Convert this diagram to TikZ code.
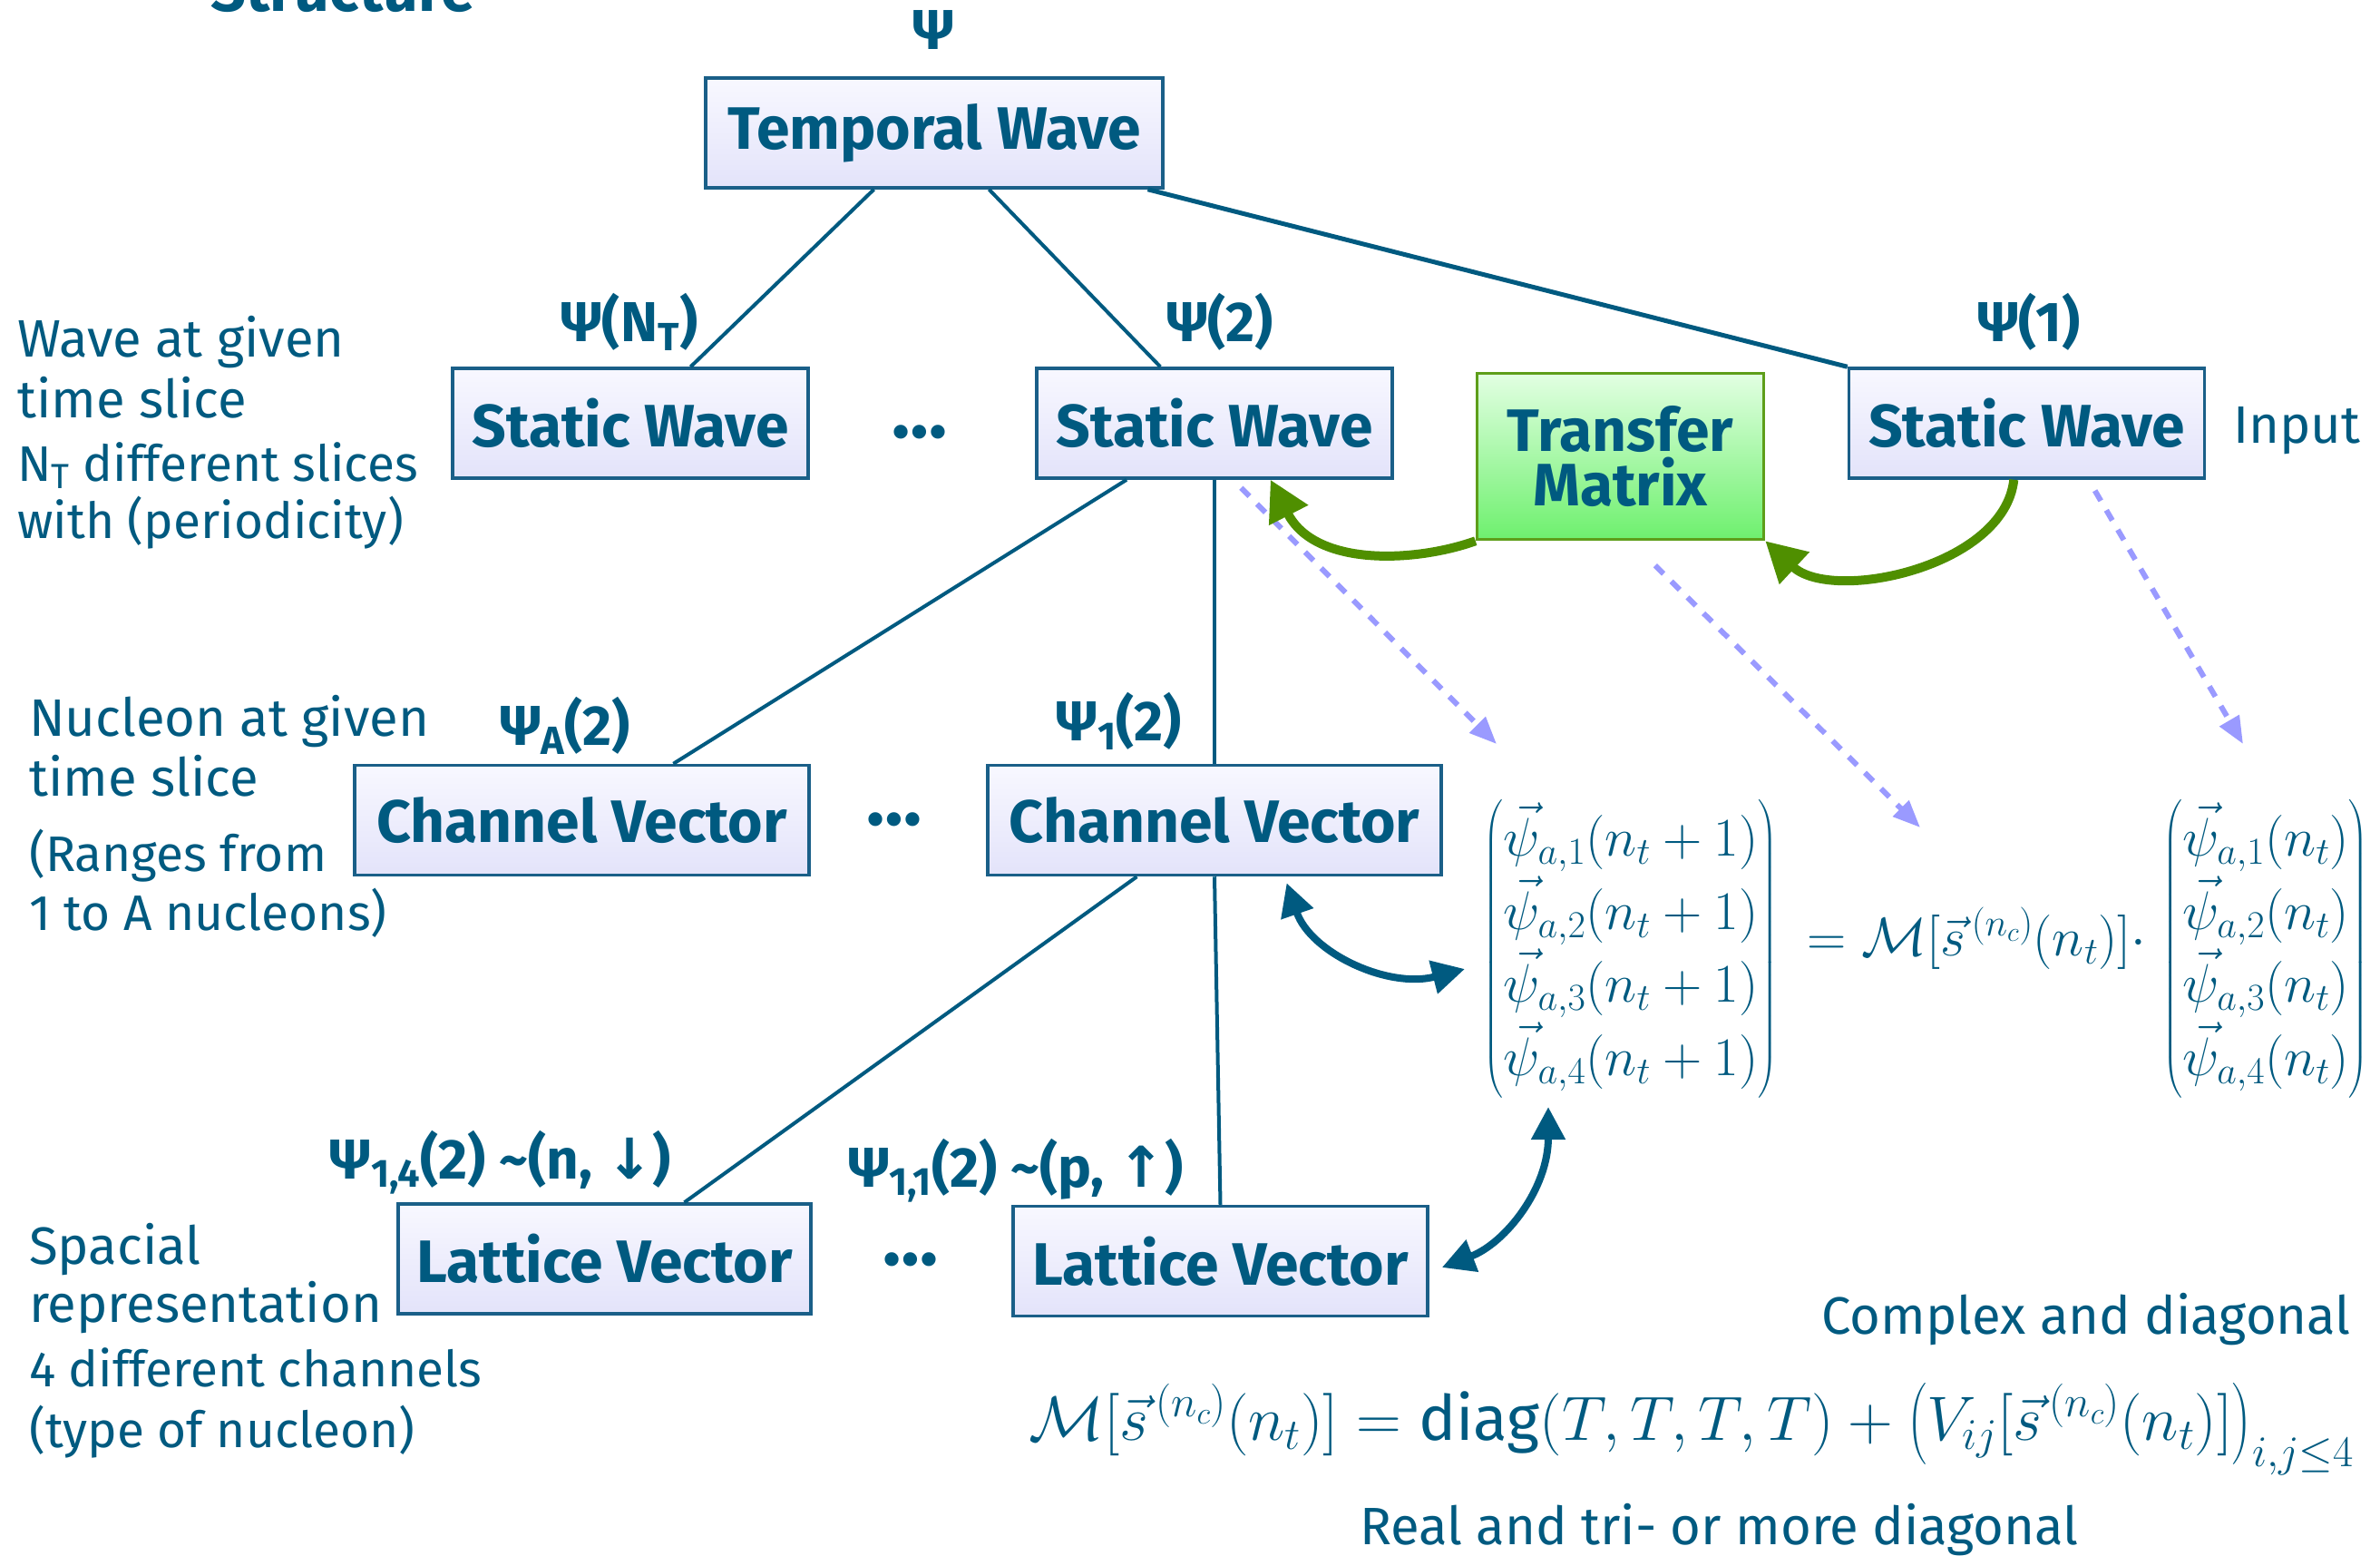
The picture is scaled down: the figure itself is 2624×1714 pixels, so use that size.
\RequirePackage{fix-cm}
\documentclass[tikz,border=0pt]{standalone}
\usepackage{fontspec}
\setmainfont{Fira Sans}
\newfontfamily\djv{DejaVu Sans}
\usepackage{amsmath}
\usetikzlibrary{arrows.meta,calc}
\definecolor{tblue}{HTML}{005A80}
\definecolor{bdr}{HTML}{1A5F88}
\definecolor{boxtop}{HTML}{F8F8FF}
\definecolor{boxbot}{HTML}{E3E3FA}
\definecolor{gtop}{HTML}{E2FFE2}
\definecolor{gbot}{HTML}{6EF06E}
\definecolor{gbdr}{HTML}{5E9E1A}
\definecolor{garr}{HTML}{4F8F00}
\definecolor{lav}{HTML}{9A9AFF}
\begin{document}
\begin{tikzpicture}[x=1pt,y=-1pt,
  box/.style={draw=bdr,line width=3.5pt,top color=boxtop,bottom color=boxbot,
    minimum width=#1,minimum height=121pt,inner sep=0pt,text=tblue,
    font=\fontsize{66}{70}\selectfont\bfseries},
  tmbox/.style={draw=gbdr,line width=3.5pt,top color=gtop,bottom color=gbot,
    minimum width=316pt,minimum height=183pt,inner sep=0pt,text=tblue,align=center,
    font=\fontsize{66}{60}\selectfont\bfseries},
  psilab/.style={text=tblue,inner sep=0pt,font=\fontsize{62}{64}\selectfont\bfseries},
  note/.style={text=tblue,inner sep=0pt,anchor=base west,font=\fontsize{58}{60}\selectfont},
  subnote/.style={text=tblue,inner sep=0pt,anchor=base west,font=\fontsize{55}{60}\selectfont},
  dots/.style={text=tblue,inner sep=0pt,font=\fontsize{84}{88}\selectfont\bfseries},
  mathnode/.style={text=tblue,inner sep=0pt,font=\fontsize{60}{62}\selectfont},
  bigmath/.style={text=tblue,inner sep=0pt,font=\fontsize{69}{72}\selectfont},
  conn/.style={draw=tblue,line width=4pt},
  dsh/.style={draw=lav,line width=6pt,dash pattern=on 13pt off 12pt,
    -{Triangle[length=30pt,width=24pt]}},
  garrow/.style={draw=garr,line width=10pt,-{Triangle[length=44pt,width=46pt]}},
  barrow/.style={draw=tblue,line width=8pt,{Triangle[length=36pt,width=36pt]}-{Triangle[length=36pt,width=36pt]}}
]
\useasboundingbox (0,0) rectangle (2624,1714);

% title (cut off at the top, as in the reference)
\node[text=tblue,inner sep=0pt,anchor=base west,font=\fontsize{68}{70}\selectfont\bfseries] (title) at (232,12) {Structure};

% top level
\node[psilab] (psi0) at (1029,33) {Ψ};
\node[box=504pt] (tw) at (1030,146.5) {Temporal Wave};

% static waves
\node[box=392pt] (swN) at (695,466.5) {Static Wave};
\node[box=392pt] (sw2) at (1339,466.5) {Static Wave};
\node[box=392pt] (sw1) at (2234.5,466.5) {Static Wave};
\node[tmbox] (tm) at (1786.5,503) {Transfer\\Matrix};
\node[dots] (dotsA) at (1014,476) {…};
\node[note] (input) at (2462,488) {Input};

\node[psilab] (lN) at (694,355) {Ψ(N\textsubscript{T})};
\node[psilab] (l2) at (1345,355) {Ψ(2)};
\node[psilab] (l1) at (2237,355) {Ψ(1)};

% channel vectors
\node[box=501pt] (cvA) at (641.5,904) {Channel Vector};
\node[box=500pt] (cv1) at (1339,904) {Channel Vector};
\node[dots] (dotsB) at (986,903) {…};
\node[psilab] (lA) at (623,800) {Ψ\textsubscript{A}(2)};
\node[psilab] (l12) at (1234,795) {Ψ\textsubscript{1}(2)};

% lattice vectors
\node[box=455pt] (lv4) at (666.5,1387.5) {Lattice Vector};
\node[box=457pt] (lv1) at (1345.5,1390) {Lattice Vector};
\node[dots] (dotsC) at (1004,1388) {…};
\node[psilab] (l14) at (552,1281) {Ψ\textsubscript{1,4}(2) \textasciitilde(n, {\djv ↓})};
\node[psilab] (l11) at (1120,1290) {Ψ\textsubscript{1,1}(2) \textasciitilde(p, {\djv ↑})};

% left annotations
\node[note] (a1) at (19,393) {Wave at given};
\node[note] (a2) at (19,460) {time slice};
\node[subnote] (a3) at (19,530) {N\textsubscript{T} different slices};
\node[subnote] (a4) at (19,593) {with (periodicity)};
\node[note] (b1) at (32,811) {Nucleon at given};
\node[note] (b2) at (32,877) {time slice};
\node[subnote] (b3) at (32,960) {(Ranges from};
\node[subnote] (b4) at (32,1025) {1 to A nucleons)};
\node[note] (c1) at (32,1393) {Spacial};
\node[note] (c2) at (32,1457) {representation};
\node[subnote] (c3) at (32,1528) {4 different channels};
\node[subnote] (c4) at (32,1595) {(type of nucleon)};

% equation
\node[mathnode] (matL) at (1798,1046) {$\renewcommand{\arraystretch}{1.18}\begin{pmatrix}\vec{\psi}_{a,1}(n_t+1)\\ \vec{\psi}_{a,2}(n_t+1)\\ \vec{\psi}_{a,3}(n_t+1)\\ \vec{\psi}_{a,4}(n_t+1)\end{pmatrix}$};
\node[mathnode,anchor=base west] (eqmid) at (1992,1053) {$=\mathcal{M}[\vec{s}^{\,(n_c)}(n_t)]\cdot$};
\node[mathnode] (matR) at (2498,1046) {$\renewcommand{\arraystretch}{1.18}\begin{pmatrix}\vec{\psi}_{a,1}(n_t)\\ \vec{\psi}_{a,2}(n_t)\\ \vec{\psi}_{a,3}(n_t)\\ \vec{\psi}_{a,4}(n_t)\end{pmatrix}$};

\node[note,anchor=base east] (cplx) at (2592,1470) {Complex and diagonal};
\node[bigmath,anchor=base west] (meq) at (1134,1587) {$\mathcal{M}[\vec{s}^{\,(n_c)}(n_t)] = \mbox{diag}(T,T,T,T) + \bigl(V_{ij}[\vec{s}^{\,(n_c)}(n_t)]\bigr)_{i,j\le 4}$};
\node[note] (real) at (1499,1702) {Real and tri- or more diagonal};

% tree connectors
\draw[conn] ($(tw.south west)!0.369!(tw.south east)$) -- ($(swN.north west)!0.668!(swN.north east)$);
\draw[conn] ($(tw.south west)!0.619!(tw.south east)$) -- ($(sw2.north west)!0.349!(sw2.north east)$);
\draw[draw=tblue,line width=5pt] ($(tw.south west)!0.964!(tw.south east)$) -- (sw1.north west);
\draw[conn] ($(sw2.south west)!0.255!(sw2.south east)$) -- ($(cvA.north west)!0.70!(cvA.north east)$);
\draw[conn] (sw2.south) -- (cv1.north);
\draw[conn] ($(cv1.south west)!0.33!(cv1.south east)$) -- ($(lv4.north west)!0.692!(lv4.north east)$);
\draw[conn] (cv1.south) -- (lv1.north);

% dashed arrows to the equation
\coordinate (d1tip) at (1650,820);
\coordinate (d2tip) at (2117,912);
\coordinate (d3tip) at (2473,820);
\draw[dsh] ($(sw2.south west)!0.574!(sw2.south east)+(0,9)$) -- (d1tip);
\draw[dsh] ($(tm.south west)!0.62!(tm.south east)+(0,27)$) -- (d2tip);
\draw[dsh] ($(sw1.south west)!0.69!(sw1.south east)+(0,12)$) -- (d3tip);

% green transfer arrows
\draw[garrow] (tm.south west) .. controls (1560,620) and (1450,625) .. ($(sw2.south west)!0.656!(sw2.south east)$);
\draw[garrow] ($(sw1.south west)!0.464!(sw1.south east)$) .. controls (2210,625) and (2020,665) .. (tm.south east);

% blue double arrows
\coordinate (b1a) at ($(cv1.south west)!0.658!(cv1.south east)+(0,7)$);
\coordinate (b1b) at (1615,1068);
\coordinate (b2a) at (1707,1220);
\coordinate (b2b) at ($(lv1.east)+(14,7)$);
\draw[barrow] (b1a) .. controls (1445,1050) and (1530,1090) .. (b1b);
\draw[barrow] (b2a) .. controls (1707,1310) and (1660,1370) .. (b2b);
\end{tikzpicture}
\end{document}
